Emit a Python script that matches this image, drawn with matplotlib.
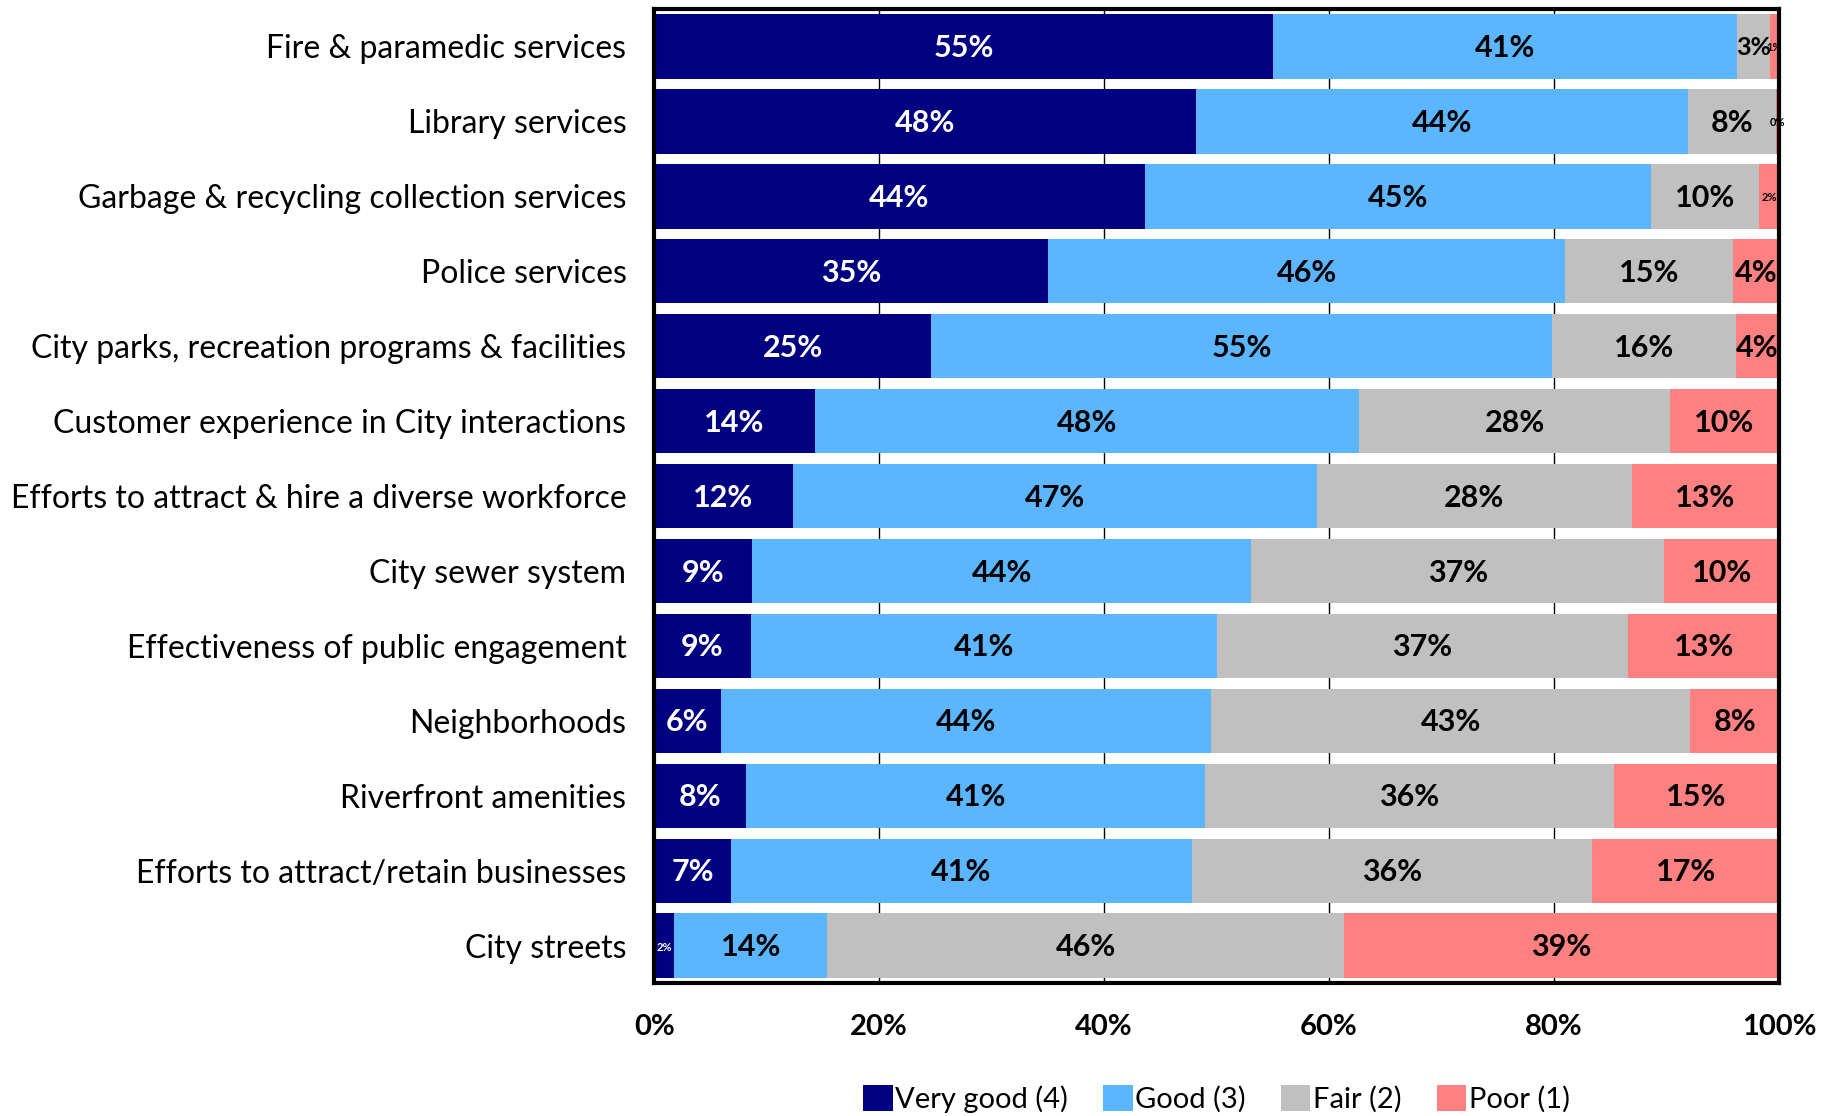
import matplotlib
matplotlib.use("Agg")
import numpy as np
import matplotlib.pyplot as plt

plt.rcParams['font.family'] = ['Lato', 'DejaVu Sans']

services = [
    "Fire & paramedic services",
    "Library services",
    "Garbage & recycling collection services",
    "Police services",
    "City parks, recreation programs & facilities",
    "Customer experience in City interactions",
    "Efforts to attract & hire a diverse workforce",
    "City sewer system",
    "Effectiveness of public engagement",
    "Neighborhoods",
    "Riverfront amenities",
    "Efforts to attract/retain businesses",
    "City streets",
]

# percent of respondents per rating
very_good = [55.0, 48.2, 43.6, 35.0, 24.6, 14.3, 12.3, 8.7, 8.6, 5.9, 8.2, 6.8, 1.8]
good      = [41.3, 43.7, 45.0, 46.0, 55.2, 48.4, 46.6, 44.4, 41.4, 43.6, 40.8, 41.0, 13.6]
fair      = [2.9, 7.8, 9.6, 14.9, 16.4, 27.6, 28.0, 36.7, 36.6, 42.6, 36.3, 35.6, 45.9]
poor      = [0.8, 0.3, 1.8, 4.1, 3.8, 9.7, 13.1, 10.2, 13.4, 7.9, 14.7, 16.6, 38.7]

ratings = ["Very good (4)", "Good (3)", "Fair (2)", "Poor (1)"]
colors = ["#000080", "#5BB5FF", "#C0C0C0", "#FF8080"]
text_colors = ["white", "black", "black", "black"]

fig = plt.figure(figsize=(18.35, 11.16), dpi=100)
ax = fig.add_axes([0.3565, 0.119, 0.613, 0.873])

y = np.arange(len(services))
left = np.zeros(len(services))
for vals, name, col, tcol in zip([very_good, good, fair, poor], ratings, colors, text_colors):
    vals = np.array(vals) / 100
    ax.barh(y, vals, left=left, height=0.86, color=col, label=name, zorder=2)
    for yi, (l, v) in enumerate(zip(left, vals)):
        # narrow segments get a smaller label
        if v < 0.025:
            fs = 8
        elif v < 0.035:
            fs = 18
        else:
            fs = 22
        ax.text(l + v / 2, yi + 0.02, "%d%%" % round(v * 100), ha="center", va="center",
                color=tcol, fontsize=fs, fontweight="bold", zorder=3)
    left = left + vals

ax.set_xlim(0, 1)
ax.set_ylim(len(services) - 0.5, -0.5)
ax.set_yticks(y)
ax.set_yticklabels(services, fontsize=23)
ticks = np.arange(0, 1.01, 0.2)
ax.set_xticks(ticks)
ax.set_xticklabels(["%d%%" % round(t * 100) for t in ticks], fontsize=21, fontweight="bold")
ax.tick_params(axis="both", length=0)
ax.tick_params(axis="x", pad=22)
ax.tick_params(axis="y", pad=20)
ax.xaxis.grid(True, color="black", linewidth=1, zorder=0)
ax.set_axisbelow(True)
for s in ax.spines.values():
    s.set_linewidth(3)

ax.legend(loc="lower center", bbox_to_anchor=(0.5, -0.16), ncol=4, frameon=False,
          fontsize=21, handlelength=1.0, handleheight=1.0, handletextpad=0.1,
          columnspacing=1.2)

fig.savefig("out.png", dpi=100)
